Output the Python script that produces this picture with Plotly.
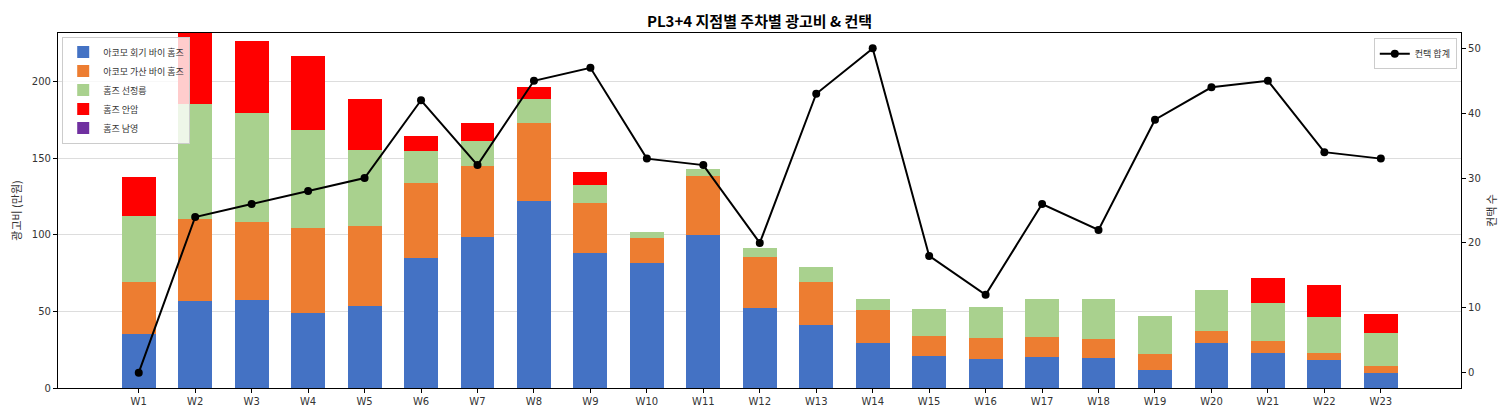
import plotly.graph_objects as go

weeks = [f"W{i}" for i in range(1, 24)]

# 광고비 (만원), stacked by 지점
akomo_hoegi = [35.4, 56.9, 57.5, 49.3, 53.6, 84.9, 98.6, 122.0, 88.1, 81.6, 99.9, 52.3,
               41.3, 29.5, 21.1, 19.1, 20.4, 19.8, 11.9, 29.5, 23.0, 18.5, 10.0]
akomo_gasan = [33.9, 53.4, 50.8, 55.1, 52.1, 48.8, 46.2, 50.8, 32.6, 16.3, 38.4, 33.2,
               28.0, 21.5, 13.0, 13.7, 13.0, 12.3, 10.5, 7.8, 7.8, 4.5, 4.5]
homes_seonjeong = [42.9, 74.9, 71.0, 63.9, 49.5, 20.9, 16.3, 15.6, 11.7, 3.9, 4.6, 5.9,
                   9.7, 7.2, 17.6, 20.2, 24.8, 26.1, 24.7, 26.7, 24.8, 23.5, 21.5]
homes_anam = [25.4, 50.0, 47.6, 48.8, 33.2, 9.8, 11.7, 7.9, 8.5, 0, 0, 0,
              0, 0, 0, 0, 0, 0, 0, 0, 16.3, 20.8, 12.4]
homes_namyeong = [0] * 23

# 컨택 합계
contacts = [0, 24, 26, 28, 30, 42, 32, 45, 47, 33, 32, 20,
            43, 50, 18, 12, 26, 22, 39, 44, 45, 34, 33]

series = [
    ("아코모 회기 바이 홈즈", akomo_hoegi, "#4472C4"),
    ("아코모 가산 바이 홈즈", akomo_gasan, "#ED7D31"),
    ("홈즈 선정릉", homes_seonjeong, "#A9D18E"),
    ("홈즈 안암", homes_anam, "#FF0000"),
    ("홈즈 남영", homes_namyeong, "#7030A0"),
]

kfont = "Noto Sans CJK KR, DejaVu Sans, sans-serif"

fig = go.Figure()
for name, vals, color in series:
    fig.add_trace(go.Bar(x=weeks, y=vals, name=name, marker_color=color,
                         marker_line_width=0, width=0.6, legend="legend"))

fig.add_trace(go.Scatter(x=weeks, y=contacts, name="컨택 합계", yaxis="y2",
                         mode="lines+markers", line=dict(color="black", width=2),
                         marker=dict(color="black", size=8), legend="legend2"))

axis_common = dict(showline=True, linecolor="black", linewidth=1.2,
                   ticks="outside", ticklen=4, tickcolor="black", automargin=False,
                   tickfont=dict(family="DejaVu Sans", size=10, color="#333"))

# page body adds ~8px offset, so figure is 8px smaller each way
fig.update_layout(
    width=1504, height=412,
    margin=dict(l=50, r=51, t=25, b=32),
    plot_bgcolor="white", paper_bgcolor="white",
    barmode="stack", bargap=0.4,
    title=dict(text="<b>PL3+4 지점별 주차별 광고비 & 컨택</b>", x=0.5, xref="paper",
               y=0.966, yanchor="middle",
               font=dict(family=kfont, size=15, color="black")),
    xaxis=dict(range=[-1.43, 23.42], showgrid=False, mirror=True, **axis_common),
    yaxis=dict(range=[0, 231.8], tickvals=[0, 50, 100, 150, 200], showgrid=True,
               gridcolor="#dddddd", gridwidth=1, zeroline=False, mirror=True,
               title=dict(text="광고비 (만원)", font=dict(family=kfont, size=11, color="#333"),
                          standoff=8),
               **axis_common),
    yaxis2=dict(overlaying="y", side="right", range=[-2.37, 52.37],
                tickvals=[0, 10, 20, 30, 40, 50], showgrid=False, zeroline=False,
                title=dict(text="컨택 수", font=dict(family=kfont, size=11, color="#333"),
                           standoff=8),
                **axis_common),
    legend=dict(x=0.003, y=0.99, xanchor="left", yanchor="top", traceorder="normal",
                bgcolor="rgba(255,255,255,0.8)", bordercolor="#cccccc", borderwidth=1,
                font=dict(family=kfont, size=9, color="#333"), itemwidth=30,
                tracegroupgap=0),
    legend2=dict(x=0.997, y=0.985, xanchor="right", yanchor="top",
                 bgcolor="rgba(255,255,255,0.8)", bordercolor="#cccccc", borderwidth=1,
                 font=dict(family=kfont, size=9, color="#333"), itemwidth=30),
)

fig.write_html("out.html")
